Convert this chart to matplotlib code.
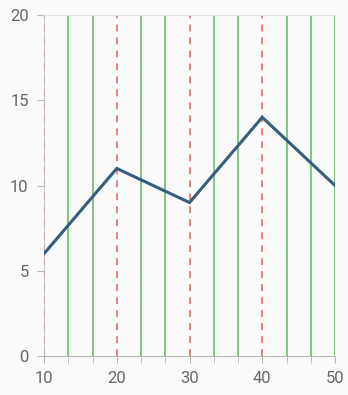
import matplotlib
matplotlib.use("Agg")
import matplotlib.pyplot as plt
import numpy as np
from matplotlib.ticker import MultipleLocator, FixedLocator

x_vals = [10, 20, 30, 40, 50]
y_vals = [6, 11, 9, 14, 10]
x_ticks = [10, 20, 30, 40, 50]
y_ticks = [0, 5, 10, 15, 20]
minor_x = [10 + 10 * i / 3 for i in range(13) if i % 3 != 0]

plt.rcParams['font.family'] = ['Roboto', 'DejaVu Sans']
fig = plt.figure(figsize=(3.48, 3.95), dpi=100, facecolor='#fafafa')
ax = fig.add_axes([44/348, 39/395, (335-44)/348, (356-15)/395])
ax.set_facecolor('#fafafa')

for m in minor_x:
    ax.axvline(m, color='#5cb85c', lw=1.1, zorder=1)
ax.axvline(50, color='#5cb85c', lw=1.1, zorder=1)
for t in x_ticks[:-1]:
    ax.axvline(t, color='#e8605a', lw=1.1, ls=(0, (4.5, 4)), zorder=1.5)

ax.plot(x_vals, y_vals, color='#355e7e', lw=2.2, zorder=3, solid_joinstyle='miter')

ax.set_xlim(10, 50)
ax.set_ylim(0, 20)
ax.set_xticks(x_ticks)
ax.set_yticks(y_ticks)
ax.xaxis.set_minor_locator(FixedLocator(minor_x))
ax.spines['right'].set_visible(False)
ax.spines['top'].set_color('#e2e2e2')
ax.spines['left'].set_color('#b8b8b8')
ax.spines['bottom'].set_color('#b8b8b8')
ax.spines['left'].set_alpha(0.7)
ax.tick_params(axis='both', which='both', length=5, color='#b8b8b8', labelcolor='#666666', labelsize=12)
ax.tick_params(axis='x', which='major', pad=6)
ax.tick_params(axis='y', pad=6)

fig.savefig('out.png', dpi=100, facecolor='#fafafa')
